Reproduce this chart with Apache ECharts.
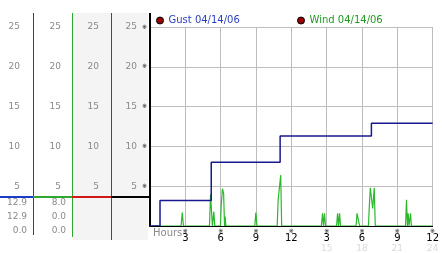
<!DOCTYPE html>
<html>
<head>
<meta charset="utf-8">
<script src="https://cdn.jsdelivr.net/npm/echarts@6/dist/echarts.min.js"></script>
<style>
html,body{margin:0;padding:0;background:#fff;}
#chart{width:442px;height:253px;}
</style>
</head>
<body>
<div id="chart"></div>
<script>
// ---- data ----
const gustName = 'Gust 04/14/06';
const windName = 'Wind 04/14/06';
// [hour, mph] step points for gust
const gustData = [[0, 0], [0.85, 3.2], [5.2, 8.0], [11.05, 11.3], [18.8, 12.9], [24, 12.9]];
// [hour, mph] wind samples
const windData = [
  [0, 0], [2.64, 0], [2.74, 1.7], [2.84, 0],
  [5.05, 0], [5.14, 4.0], [5.22, 4.0], [5.3, 0], [5.42, 1.8], [5.5, 0],
  [5.98, 0], [6.04, 2.4], [6.15, 4.7], [6.25, 4.1], [6.33, 0], [6.38, 1.2], [6.44, 0],
  [8.9, 0], [8.99, 1.7], [9.08, 0],
  [10.8, 0], [10.88, 3.3], [10.97, 3.1], [11.1, 6.4], [11.18, 0],
  [14.55, 0], [14.65, 1.6], [14.73, 0], [14.82, 1.6], [14.9, 0],
  [15.84, 0], [15.93, 1.6], [16.01, 0], [16.1, 1.6], [16.18, 0],
  [17.5, 0], [17.58, 1.6], [17.72, 1.6], [17.8, 0],
  [18.55, 0], [18.62, 2.4], [18.71, 4.8], [18.79, 4.8], [18.91, 2.2], [19.04, 4.8], [19.13, 0],
  [21.7, 0], [21.78, 3.3], [21.86, 0], [21.92, 1.6], [22.0, 0], [22.12, 1.6], [22.2, 0],
  [24, 0]
];
const gustStats = ['12.9', '12.9', '0.0'];
const windStats = ['8.0', '0.0', '0.0'];
const xTickLabels = ['', '3', '6', '9', '12', '3', '6', '9', '12'];
const xTickLabels2 = ['', '', '', '', '', '15', '18', '21', '24'];
const yTickLabels = ['', '5', '10', '15', '20', '25'];

// ---- chart ----
const chart = echarts.init(document.getElementById('chart'));
const FONT = 'DejaVu Sans';
const GRAY = '#8a8a8a';

function yLab(v) { return yTickLabels[Math.round(v / 5)] || ''; }

const sideAxis = (offset, margin) => ({
  type: 'value', position: 'left', offset: offset, min: 0, max: 25, interval: 5,
  axisLine: { show: false }, axisTick: { show: false }, splitLine: { show: false },
  axisLabel: { showMinLabel: false, margin: margin, color: GRAY, fontFamily: FONT, fontSize: 9, formatter: yLab }
});

const statTexts = [];
gustStats.forEach((t, i) => statTexts.push({
  type: 'text', right: 442 - 27, top: 198 + i * 14,
  style: { text: t, fill: GRAY, font: '9px ' + FONT, textAlign: 'right' }
}));
windStats.forEach((t, i) => statTexts.push({
  type: 'text', right: 442 - 66, top: 198 + i * 14,
  style: { text: t, fill: GRAY, font: '9px ' + FONT, textAlign: 'right' }
}));

chart.setOption({
  animation: false,
  backgroundColor: '#fff',
  grid: { left: 150, right: 5, top: 27, bottom: 27 },
  legend: [
    { left: 156, top: 14, itemWidth: 7, itemHeight: 7, padding: 0,
      data: [{ name: gustName, icon: 'circle', itemStyle: { color: '#9a0000', borderColor: '#000', borderWidth: 1 },
               textStyle: { color: '#2a3fc0' } }],
      textStyle: { fontFamily: FONT, fontSize: 10, lineHeight: 13 } },
    { left: 297, top: 14, itemWidth: 7, itemHeight: 7, padding: 0,
      data: [{ name: windName, icon: 'circle', itemStyle: { color: '#9a0000', borderColor: '#000', borderWidth: 1 },
               textStyle: { color: '#1f9a1f' } }],
      textStyle: { fontFamily: FONT, fontSize: 10, lineHeight: 13 } }
  ],
  xAxis: [
    {
      type: 'value', min: 0, max: 24, interval: 3,
      axisLine: { show: false }, axisTick: { show: false },
      splitLine: { show: true, lineStyle: { color: '#bdbdbd', width: 1 } },
      axisLabel: {
        showMinLabel: false, showMaxLabel: true, margin: 2, fontFamily: FONT,
        formatter: function (v) {
          const i = Math.round(v / 3);
          if (!xTickLabels[i]) return '';
          let s = '{m|※}\n{d|' + xTickLabels[i] + '}';
          if (xTickLabels2[i]) s += '\n{f|' + xTickLabels2[i] + '}';
          return s;
        },
        rich: {
          m: { fontSize: 6, lineHeight: 6, color: '#000', fontFamily: FONT },
          d: { fontSize: 10, lineHeight: 9, color: '#000', fontFamily: FONT },
          f: { fontSize: 9, lineHeight: 11, color: '#dadada', fontFamily: FONT }
        }
      }
    },
    {
      type: 'value', min: 0, max: 24, interval: 3, z: 5,
      axisLine: { show: true, lineStyle: { color: '#000', width: 1 } },
      axisTick: { show: false }, splitLine: { show: false }, axisLabel: { show: false }
    }
  ],
  yAxis: [
    {
      type: 'value', min: 0, max: 25, interval: 5, position: 'left',
      axisLine: { show: true, lineStyle: { color: '#000', width: 2 } },
      axisTick: { show: false },
      splitLine: { show: true, lineStyle: { color: '#bdbdbd', width: 1 } },
      axisLabel: {
        showMinLabel: false, margin: 3,
        formatter: function (v) { const t = yLab(v); return t ? '{v|' + t + '}{m|※}' : ''; },
        rich: {
          v: { color: GRAY, fontFamily: FONT, fontSize: 9 },
          m: { color: '#000', fontFamily: FONT, fontSize: 6, padding: [0, 0, 0, 5] }
        }
      }
    },
    sideAxis(39, 12),
    sideAxis(78, 11),
    sideAxis(117, 13)
  ],
  graphic: [
    { type: 'rect', z: -1, shape: { x: 73, y: 13, width: 75, height: 227 }, style: { fill: '#f4f4f4' } },
    { type: 'line', shape: { x1: 33.5, y1: 13, x2: 33.5, y2: 235 }, style: { stroke: '#1a3cc8', lineWidth: 1 } },
    { type: 'line', shape: { x1: 72.5, y1: 13, x2: 72.5, y2: 237 }, style: { stroke: '#2ea82e', lineWidth: 1 } },
    { type: 'line', shape: { x1: 111.5, y1: 13, x2: 111.5, y2: 240 }, style: { stroke: '#b02020', lineWidth: 1 } },
    { type: 'line', shape: { x1: 150, y1: 13, x2: 150, y2: 28 }, style: { stroke: '#000', lineWidth: 2 } },
    { type: 'line', shape: { x1: 0, y1: 197, x2: 33, y2: 197 }, style: { stroke: '#1a3cc8', lineWidth: 2 } },
    { type: 'line', shape: { x1: 33, y1: 197, x2: 72, y2: 197 }, style: { stroke: '#2ea82e', lineWidth: 2 } },
    { type: 'line', shape: { x1: 72, y1: 197, x2: 111, y2: 197 }, style: { stroke: '#d01818', lineWidth: 2 } },
    { type: 'line', shape: { x1: 111, y1: 197, x2: 149, y2: 197 }, style: { stroke: '#000', lineWidth: 2 } },
    { type: 'text', left: 153, top: 228, style: { text: 'Hours', fill: GRAY, font: '10px ' + FONT } }
  ].concat(statTexts),
  series: [
    {
      name: windName, type: 'line', data: windData, symbol: 'none', z: 2,
      lineStyle: { color: '#2cb82c', width: 1.2 }, itemStyle: { color: '#2cb82c' }
    },
    {
      name: gustName, type: 'line', step: 'end', data: gustData, symbol: 'none', z: 3,
      lineStyle: { color: '#18188f', width: 1.5 }, itemStyle: { color: '#18188f' }
    }
  ]
});
</script>
</body>
</html>
